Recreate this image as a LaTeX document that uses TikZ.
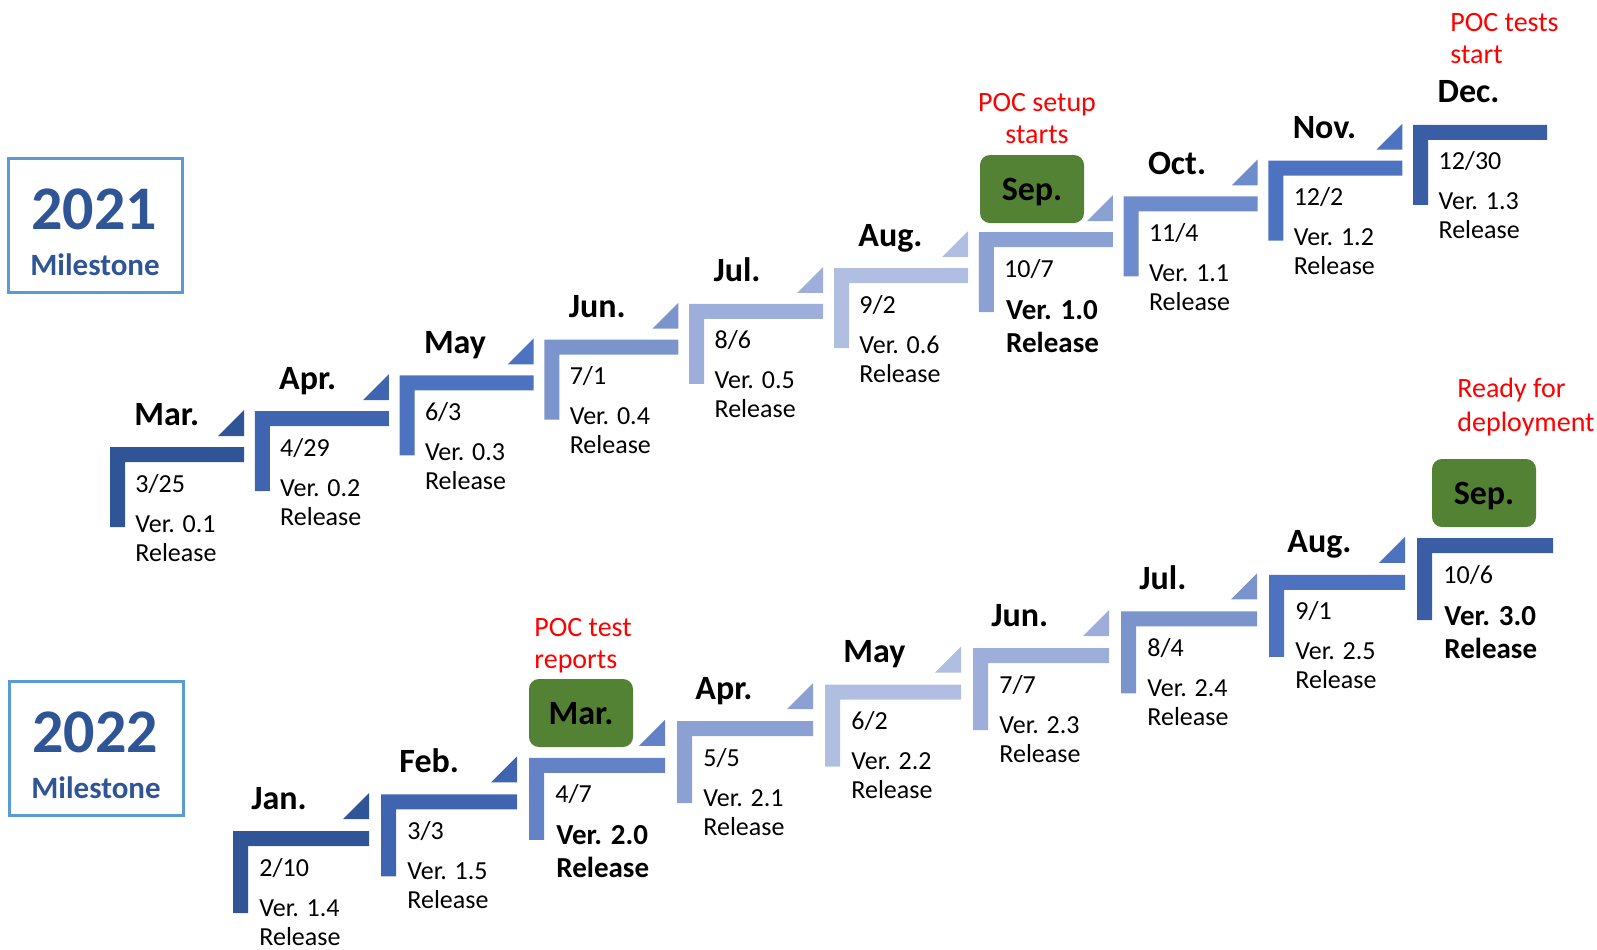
\documentclass[tikz,border=0pt]{standalone}
\usepackage{fontspec}
\setmainfont{Carlito}
\usetikzlibrary{calc}

\definecolor{tone1}{HTML}{2F5597}
\definecolor{tone2}{HTML}{3F65B0}
\definecolor{tone3}{HTML}{4D73C0}
\definecolor{tone4}{HTML}{6383C6}
\definecolor{tone5}{HTML}{7B94CC}
\definecolor{tone6}{HTML}{8CA1D3}
\definecolor{tone7}{HTML}{9CAED9}
\definecolor{tone8}{HTML}{AFBEE1}
\definecolor{tone9}{HTML}{6E8BCB}
\definecolor{tone10}{HTML}{3A5EA5}
\definecolor{pocred}{HTML}{FF0000}
\definecolor{keygreen}{HTML}{548235}
\definecolor{frameblue}{HTML}{5B9BD5}

\begin{document}
\begin{tikzpicture}[
      x=0.5pt, y=-0.5pt,
      month label/.style={anchor=base west,inner sep=0pt,font=\fontsize{17}{20}\selectfont\bfseries},
      date text/.style={anchor=base west,inner sep=0pt,font=\fontsize{13}{15}\selectfont},
      bold text/.style={anchor=base west,inner sep=0pt,font=\fontsize{14.5}{17}\selectfont\bfseries},
      key month/.style={fill=keygreen,rounded corners=5pt,minimum width=52pt,minimum height=34pt,inner sep=0pt,text depth=0pt,font=\fontsize{17}{20}\selectfont\bfseries},
      poc note/.style={anchor=base west,inner sep=0pt,text=pocred,font=\fontsize{14}{16}\selectfont},
      year frame/.style={draw=frameblue,line width=1.5pt},
      year text/.style={anchor=base,inner sep=0pt,text=tone1,font=\fontsize{31}{36}\selectfont\bfseries},
      mile text/.style={anchor=base,inner sep=0pt,text=tone1,font=\fontsize{15.5}{18}\selectfont\bfseries}
      ]
      \useasboundingbox (0,0) rectangle (1597,949);
      % 2021 stairs
      \foreach \i/\mon/\dm/\dd/\ver/\tone/\kind in
      {0/Mar./3/25/0.1/tone1/n,1/Apr./4/29/0.2/tone2/n,2/May/6/3/0.3/tone3/n,3/Jun./7/1/0.4/tone5/n,4/Jul./8/6/0.5/tone7/n,
       5/Aug./9/2/0.6/tone8/n,6/Sep./10/7/1.0/tone6/b,7/Oct./11/4/1.1/tone9/n,8/Nov./12/2/1.2/tone3/n,9/Dec./12/30/1.3/tone10/n} {
          \pgfmathsetmacro{\X}{110+144.8*\i}
          \pgfmathsetmacro{\Y}{447-35.8*\i}
          \fill[\tone] (\X,\Y) -- ++(134,0) -- ++(0,15) -- ++(-119,0) -- ++(0,65) -- ++(-15,0) -- cycle;
          \ifnum\i<9
            \fill[\tone] (\X+108,\Y-11) -- ++(26,0) -- ++(0,-26) -- cycle;
          \fi
          \node[date text] (a\i) at (\X+25,\Y+45) {\dm/\dd};
          \if\kind n
            \node[month label] (am\i) at (\X+24,\Y-22) {\mon};
            \node[date text] (av\i) at (\X+25,\Y+85) {Ver. \ver};
            \node[date text] (ar\i) at (\X+25,\Y+114) {Release};
          \else
            \node[bold text] (av\i) at (\X+27,\Y+87) {Ver. \ver};
            \node[bold text] (ar\i) at (\X+27,\Y+120) {Release};
          \fi
      }
      % 2022 stairs
      \foreach \i/\mon/\dm/\dd/\ver/\tone/\kind in
      {0/Jan./2/10/1.4/tone1/n,1/Feb./3/3/1.5/tone2/n,2/Mar./4/7/2.0/tone4/b,3/Apr./5/5/2.1/tone6/n,4/May/6/2/2.2/tone8/n,
       5/Jun./7/7/2.3/tone7/n,6/Jul./8/4/2.4/tone5/n,7/Aug./9/1/2.5/tone3/n,8/Sep./10/6/3.0/tone10/b} {
          \pgfmathsetmacro{\X}{233+148*\i}
          \pgfmathsetmacro{\Y}{831-36.6*\i}
          \fill[\tone] (\X,\Y) -- ++(136,0) -- ++(0,15) -- ++(-121,0) -- ++(0,67) -- ++(-15,0) -- cycle;
          \ifnum\i<8
            \fill[\tone] (\X+110,\Y-12) -- ++(26,0) -- ++(0,-26) -- cycle;
          \fi
          \node[date text] (b\i) at (\X+26,\Y+45) {\dm/\dd};
          \if\kind n
            \node[month label] (bm\i) at (\X+18,\Y-22) {\mon};
            \node[date text] (bv\i) at (\X+26,\Y+85) {Ver. \ver};
            \node[date text] (br\i) at (\X+26,\Y+114) {Release};
          \else
            \node[bold text] (bv\i) at (\X+27,\Y+87) {Ver. \ver};
            \node[bold text] (br\i) at (\X+27,\Y+120) {Release};
          \fi
      }
      % key months
      \node[key month] (k21sep) at (1032,189) {Sep.};
      \node[key month] (k22mar) at (581,713) {Mar.};
      \node[key month] (k22sep) at (1484,493) {Sep.};
      % POC notes
      \node[poc note,anchor=base] (n1a) at (1037,111) {POC setup};
      \node[poc note,anchor=base] (n1b) at (1037,143) {starts};
      \node[poc note] (n2a) at (1450,31) {POC tests};
      \node[poc note] (n2b) at (1450,63) {start};
      \node[poc note] (n3a) at (534,636) {POC test};
      \node[poc note] (n3b) at (534,668) {reports};
      \node[poc note] (n4a) at (1457,397) {Ready for};
      \node[poc note] (n4b) at (1457,431) {deployment};
      % year boxes
      \draw[year frame] (8,158) rectangle (182,292);
      \node[year text] (y21) at (94,229) {2021};
      \node[mile text] (m21) at (95,275) {Milestone};
      \draw[year frame] (9,681) rectangle (183,815);
      \node[year text] (y22) at (95,752) {2022};
      \node[mile text] (m22) at (96,798) {Milestone};
    \end{tikzpicture}
\end{document}
